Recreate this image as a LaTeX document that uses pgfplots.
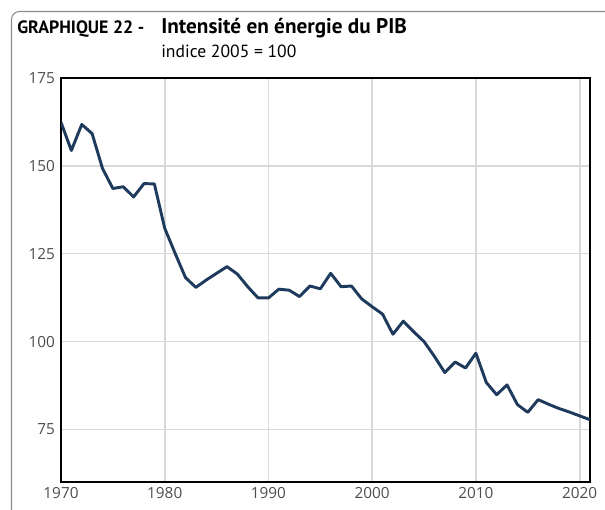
\documentclass[border=0pt]{standalone}
\usepackage{fontspec}
\setmainfont{Open Sans}
\newfontfamily\titlefont{PT Sans}
\usepackage{pgfplots}
\pgfplotsset{compat=1.18}
\definecolor{navy}{HTML}{1E3A5C}
\definecolor{gridgray}{HTML}{D9D9D9}
\definecolor{labgray}{HTML}{4D4D4D}
\definecolor{framegray}{HTML}{8C8C8C}
\begin{document}
\begin{tikzpicture}
\begin{scope}[x=0.75pt,y=0.75pt]
\useasboundingbox (0,0) rectangle (605,509);
\draw[framegray, line width=0.8pt, rounded corners=6pt] (11.5,-2) -- (11.5,497.5) -- (607,497.5);
\node[anchor=base west, inner sep=0, font=\titlefont\bfseries\fontsize{13.4}{16}\selectfont] at (17,475.7) {GRAPHIQUE 22 -};
\node[anchor=base west, inner sep=0, font=\titlefont\bfseries\fontsize{15.9}{18}\selectfont] at (161,475.7) {Intensité en énergie du PIB};
\node[anchor=base west, inner sep=0, font=\titlefont\fontsize{13.2}{15}\selectfont] at (161,451.7) {indice 2005 = 100};
\end{scope}
\begin{axis}[
  at={(45.75pt,20.5pt)}, anchor=south west,
  scale only axis, width=396.75pt, height=303pt,
  xmin=1970, xmax=2021, ymin=60.2, ymax=175,
  xtick={1980,1990,2000,2010,2020},
  ytick={75,100,125,150},
  extra x ticks={1970},
  extra y ticks={175},
  extra tick style={grid=none},
  major tick length=0pt,
  grid=major,
  major grid style={gridgray, line width=1.3pt},
  axis line style={black, line width=1.3pt},
  ticklabel style={font=\fontsize{11.5}{13}\selectfont, text=labgray},
  /pgf/number format/1000 sep={},
  /pgf/number format/assume math mode=true,
  xticklabel style={yshift=-1pt},
  yticklabel style={xshift=-1pt},
]
\addplot[navy, line width=2.2pt, line join=round] coordinates {
(1970,162.3) (1971,154.3) (1972,161.7) (1973,159.1) (1974,149.2) (1975,143.5)
(1976,144.0) (1977,141.1) (1978,144.9) (1979,144.8) (1980,132.2) (1981,125.1)
(1982,118.2) (1983,115.4) (1984,117.5) (1985,119.4) (1986,121.3) (1987,119.2)
(1988,115.6) (1989,112.4) (1990,112.4) (1991,114.9) (1992,114.6) (1993,112.8)
(1994,115.8) (1995,115.0) (1996,119.4) (1997,115.6) (1998,115.8) (1999,112.1)
(2000,109.9) (2001,107.8) (2002,102.1) (2003,105.8) (2004,102.8) (2005,100.0)
(2006,95.8) (2007,91.2) (2008,94.2) (2009,92.5) (2010,96.7) (2011,88.4)
(2012,84.9) (2013,87.7) (2014,82.1) (2015,79.9) (2016,83.5) (2017,82.2)
(2018,81.0) (2019,80.0) (2020,78.9) (2021,77.8)
};
\end{axis}
\end{tikzpicture}
\end{document}
